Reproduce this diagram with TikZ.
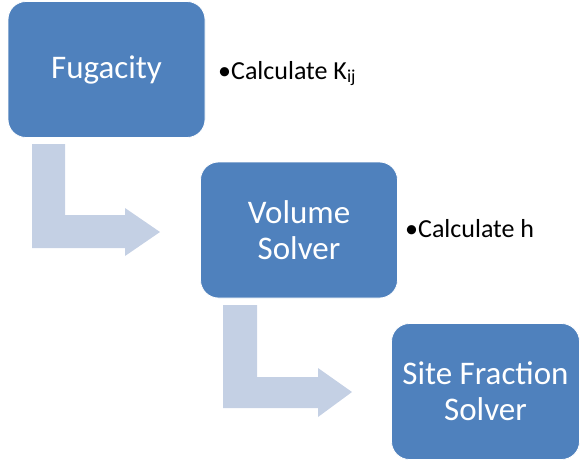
\documentclass[tikz,border=0pt]{standalone}
\usepackage{fontspec}
\setmainfont{Carlito}
\definecolor{boxblue}{RGB}{79,129,189}
\definecolor{arrowblue}{RGB}{196,208,228}
\begin{document}
\begin{tikzpicture}[x=1pt,y=-1pt,
  stagebox/.style={fill=boxblue,draw=white,line width=0.8pt,rounded corners=18pt,
    minimum width=197pt,minimum height=136pt,text=white,align=center,
    font=\fontsize{33}{36}\selectfont},
  bullettext/.style={anchor=base west,inner sep=0pt,font=\fontsize{26}{30}\selectfont},
  bentarrow/.style={fill=arrowblue,draw=none}]
\useasboundingbox (0,0) rectangle (580,466);
\node[stagebox] (fug) at (106.5,69.5) {Fugacity};
\node[stagebox] (vol) at (299,230) {Volume\\Solver};
\node[stagebox,minimum width=188pt] (site) at (485.5,391.5) {Site Fraction\\Solver};
\node[bullettext] (kij) at (218,79) {•Calculate K\textsubscript{ij}};
\node[bullettext] (hh) at (405,237) {•Calculate h};
% bent arrow 1 : fug -> vol
\fill[bentarrow] (32,144) -- (65,144) -- (65,215) -- (125,215) -- (125,208)
  -- (160,232) -- (125,256) -- (125,248) -- (32,248) -- cycle;
% bent arrow 2 : vol -> site
\fill[bentarrow] (223,305) -- (257,305) -- (257,377) -- (318,377) -- (318,368)
  -- (352,392) -- (318,417) -- (318,408) -- (223,408) -- cycle;
\end{tikzpicture}
\end{document}
